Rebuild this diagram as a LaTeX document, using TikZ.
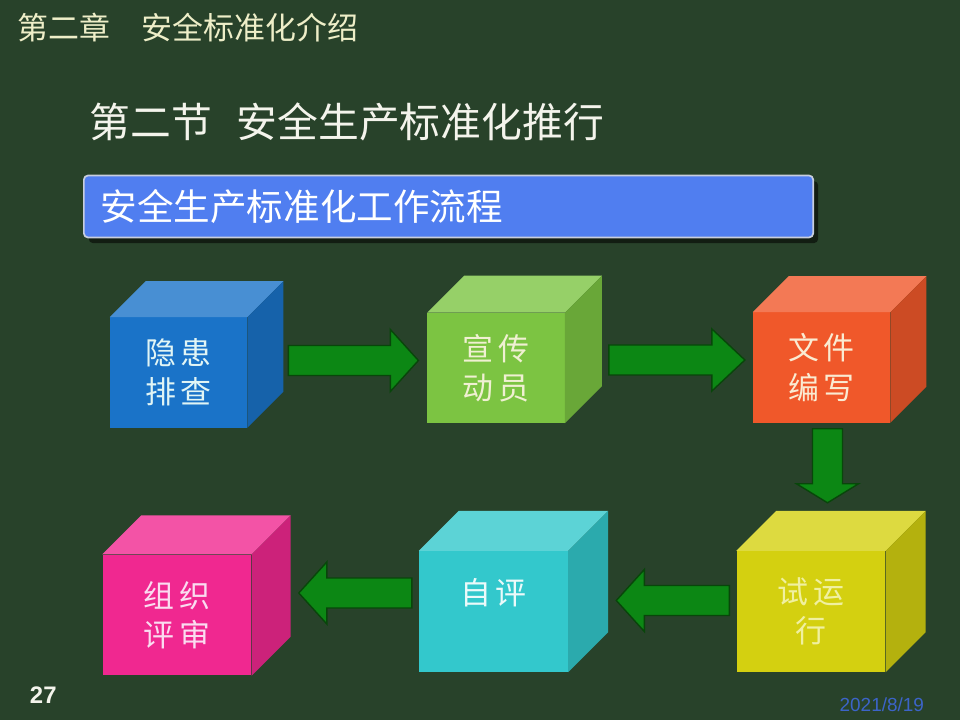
\documentclass[tikz,border=0pt]{standalone}
\usepackage{fontspec}
\setmainfont{Noto Sans CJK SC}
\newfontfamily\numfont{Liberation Sans}
\newfontfamily\cubefont[LetterSpace=15]{Noto Sans CJK SC}
\usetikzlibrary{calc,shadows}

\definecolor{board}{RGB}{40,66,42}
\definecolor{barblue}{RGB}{80,126,240}
\definecolor{barrim}{RGB}{200,206,222}
\definecolor{chalk}{RGB}{244,244,236}
\definecolor{chalkyellow}{RGB}{238,238,200}
\definecolor{datecol}{RGB}{60,100,200}
\definecolor{arrowgreen}{RGB}{12,135,20}
\definecolor{arrowedge}{RGB}{8,70,10}
\definecolor{cubeblue}{RGB}{26,115,200}
\definecolor{cubegreen}{RGB}{124,196,66}
\definecolor{cubeorange}{RGB}{240,88,42}
\definecolor{cubeyellow}{RGB}{212,208,16}
\definecolor{cubecyan}{RGB}{51,200,204}
\definecolor{cubepink}{RGB}{240,40,144}
\definecolor{inkblue}{RGB}{225,245,245}
\definecolor{inkgreen}{RGB}{240,240,210}
\definecolor{inkorange}{RGB}{250,235,210}
\definecolor{inkyellow}{RGB}{240,240,160}
\definecolor{inkcyan}{RGB}{235,250,250}
\definecolor{inkpink}{RGB}{250,220,240}

% name, position, colour, options, depth, text
\newcommand{\flowcube}[6]{\node[face, fill=#3, #4] (#1) at #2 {#6};
        \fill[#3!80!white] (#1.north west) -- ++(#5,-#5) -- ($(#1.north east)+(#5,-#5)$) -- (#1.north east) -- cycle;
        \fill[#3!85!black] (#1.north east) -- ++(#5,-#5) -- ($(#1.south east)+(#5,-#5)$) -- (#1.south east) -- cycle;
    }
% tail, angle, length, head length
\newcommand{\flowarrow}[4]{\begin{scope}[shift={#1}, rotate=#2]
        \draw[flow] (0,-15) -- (#3-#4,-15) -- (#3-#4,-31) -- (#3,0) -- (#3-#4,31) -- (#3-#4,15) -- (0,15) -- cycle;
        \end{scope}
    }

\begin{document}
\begin{tikzpicture}
                [x=0.025cm, y=-0.025cm,
                face/.style={rectangle, inner sep=0pt, align=center, font=\cubefont\fontsize{22}{28}\selectfont},
                toprow/.style={minimum width=3.43cm, minimum height=2.75cm},
                lowrow/.style={minimum width=3.72cm, minimum height=3.02cm},
                flow/.style={draw=arrowedge, fill=arrowgreen, line width=1pt, line join=miter},
                bar/.style={anchor=west, rectangle, rounded corners=3pt, fill=barblue, draw=barrim, line width=1.2pt,
                    minimum height=1.55cm, text width=17.39cm, inner xsep=0.42cm, align=left, text=white,
                    font=\fontsize{26}{30}\selectfont},
                ]
                \fill[board] (0,0) rectangle (960,720);
                \node[anchor=west, text=chalkyellow, font=\fontsize{22}{24}\selectfont] (chapter) at (13,28) {第二章　安全标准化介绍};
                \node[anchor=west, text=chalk, font=\fontsize{29}{34}\selectfont] (section) at (85,122) {第二节\hspace{0.6em}安全生产标准化推行};
                \node[bar, drop shadow={fill=black, opacity=0.55, shadow xshift=3.5pt, shadow yshift=-4pt}] (flowbar) at (83,206.5) {安全生产标准化工作流程};

                \flowcube{c1}{(178.5,372.5)}{cubeblue}{toprow, text=inkblue}{36}{隐患\\排查}
                \flowcube{c2}{(496,368)}{cubegreen}{toprow, text=inkgreen}{37}{宣传\\动员}
                \flowcube{c3}{(821.5,367.5)}{cubeorange}{toprow, text=inkorange}{36}{文件\\编写}
                \flowcube{c4}{(811,611.5)}{cubeyellow}{lowrow, text=inkyellow}{40}{试运\\行}
                \flowcube{c5}{(493.5,611.5)}{cubecyan}{lowrow, text=inkcyan}{40}{自评\\\mbox{}}
                \flowcube{c6}{(177,615)}{cubepink}{lowrow, text=inkpink}{39}{组织\\评审}

                \flowarrow{($(c1.east)+(41,-12)$)}{0}{130}{28}
                \flowarrow{($(c2.east)+(44,-8)$)}{0}{136}{33}
                \flowarrow{($(c3.south)+(6,6)$)}{-90}{74}{19}
                \flowarrow{($(c4.west)+(-7,-11)$)}{180}{113}{28}
                \flowarrow{($(c5.west)+(-7,-18.5)$)}{180}{113}{28}

                \node[anchor=west, text=chalk, font=\numfont\bfseries\fontsize{17}{20}\selectfont] (pageno) at (25,695) {27};
                \node[anchor=east, text=datecol, font=\numfont\fontsize{13.5}{16}\selectfont] (date) at (929,705) {2021/8/19};
            \end{tikzpicture}
\end{document}
